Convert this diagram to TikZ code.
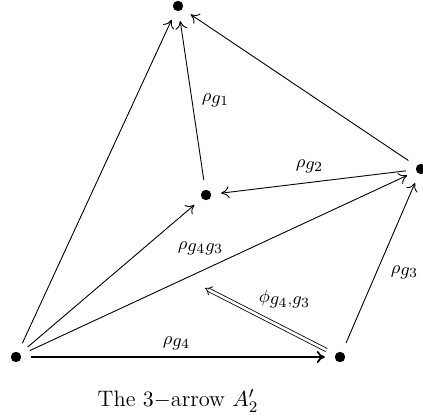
\documentclass[tikz,border=0pt]{standalone}
\usepackage{amsmath,amssymb}
\usepackage{tikz}
\usetikzlibrary{arrows.meta}
\tikzset{
  vtx/.style={circle, fill, inner sep=0pt, minimum size=5.2pt, outer sep=5pt},
  lbl/.style={inner sep=1pt, font=\fontsize{9.5}{11}\selectfont},
  edge/.style={-{To[length=4pt,width=6pt]}, line width=0.45pt},
}
\newcommand{\rg}[1]{\rho_{\textstyle #1}}

\begin{document}
\begin{tikzpicture}[x=1pt, y=1pt]
  \useasboundingbox (0,0) rectangle (211.5,209.5);
  \node[vtx] (top) at (89,206.5) {};
  \node[vtx] (mid) at (103,112) {};
  \node[vtx] (rt) at (210.5,125) {};
  \node[vtx] (bl) at (8,31) {};
  \node[vtx] (br) at (170,31) {};
  \coordinate (phi) at (102.5,65.5);
  \draw[edge] (bl)--(top); \draw[edge] (mid)--(top); \draw[edge] (rt)--(top);
  \draw[edge] (rt)--(mid); \draw[edge] (bl)--(mid); \draw[edge] (bl)--(rt);
  \draw[edge] (br)--(rt);
  \draw[edge, line width=0.9pt] (bl)--(br);
  \draw[-{Implies[length=4pt]}, double, double distance=1.3pt, line width=0.4pt] (br)--(phi);
  \node[lbl] (l1) at (108,159.5) {$\rg{g_1}$};
  \node[lbl] (l2) at (155,126.5) {$\rg{g_2}$};
  \node[lbl] (l43) at (100.5,85.5) {$\rg{g_4g_3}$};
  \node[lbl] (l3) at (202.5,73.5) {$\rg{g_3}$};
  \node[lbl] (lp) at (142.5,60) {$\phi_{\textstyle g_4{\scriptstyle,}g_3}$};
  \node[lbl] (l4) at (88.5,38) {$\rg{g_4}$};
  \node[font=\fontsize{11.2}{13.5}\selectfont] (cap) at (89,9) {The $3{-}$arrow $A_2'$};
\end{tikzpicture}
\end{document}
